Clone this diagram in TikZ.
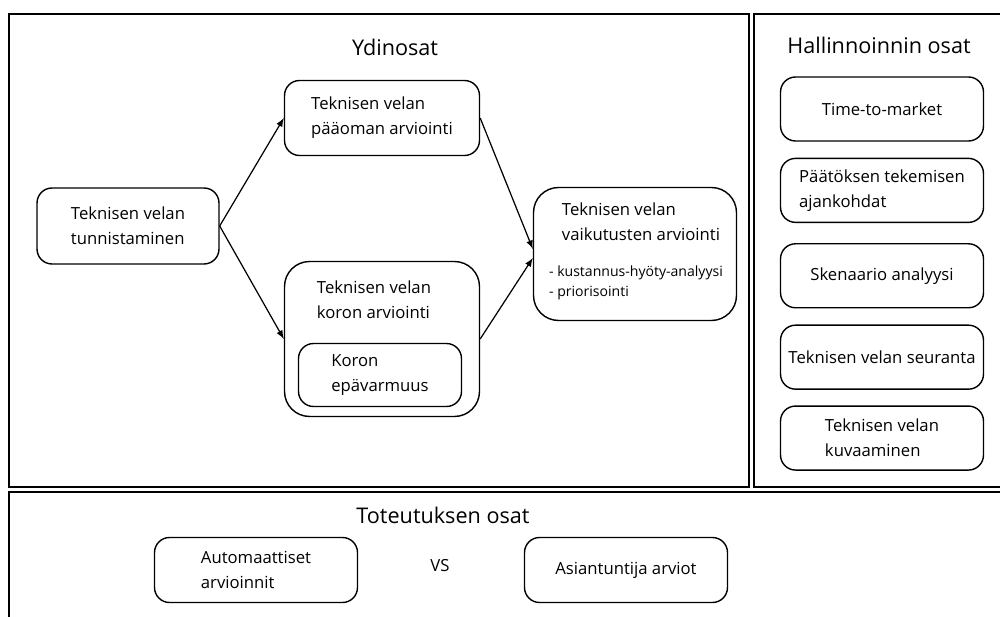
\documentclass[tikz,border=0pt]{standalone}
\usepackage{fontspec}
\setmainfont{Open Sans}
\usepackage{tikz}
\usetikzlibrary{arrows,positioning}

\begin{document}
\begin{tikzpicture}[x=0.02cm, y=-0.02cm,
    block/.style={
      rectangle,
      draw=black,
      line width=0.8pt,
      align=left,
      rounded corners=0.3cm,
      minimum width=4.06cm,
      minimum height=1.28cm,
      font=\fontsize{9.5}{14.2}\selectfont
    },
    teksti/.style={
      align=left,
      inner sep=0pt,
      font=\fontsize{9.5}{14.2}\selectfont
    },
    otsikko/.style={font=\fontsize{12.3}{15}\selectfont},
    kehys/.style={draw=black, line width=1.1pt},
    nuoli/.style={-latex, line width=0.7pt}
]
\useasboundingbox (0,0) rectangle (1000,617);

%% Frame
\draw [kehys] (9,14) rectangle (749,487);
\draw [kehys] (754,14) rectangle (1010,487);
\draw [kehys] (9,492) rectangle (1010,630);

%% Ydinosat
\node [otsikko] (ydin) at (395,47) {Ydinosat};
\node [block, minimum width=3.64cm, minimum height=1.52cm] (tunnistus) at (128,226) {Teknisen velan\\tunnistaminen};
\node [block, minimum width=3.9cm, minimum height=1.5cm] (paaoma) at (382,118) {Teknisen velan\\pääoman arviointi};
\node [block, minimum width=3.9cm, minimum height=3.1cm, rounded corners=0.5cm] (korko) at (382,339) {};
\node [teksti] (korkoteksti) at (374,300) {Teknisen velan\\koron arviointi};
\node [block, minimum width=3.26cm, minimum height=1.26cm] (epavarmuus) at (380,375) {Koron\\epävarmuus};
\node [block, minimum height=2.66cm, rounded corners=0.5cm] (vaikutus) at (635,254) {};
\node [teksti] (vaikutusteksti) at (641,222) {Teknisen velan\\vaikutusten arviointi};
\node [teksti, font=\fontsize{8}{11.4}\selectfont] (lista) at (636,283) {- kustannus-hyöty-analyysi\\- priorisointi};

%% Hallinnoinnin osat
\node [otsikko] (hallinto) at (879,45) {Hallinnoinnin osat};
\node [block] (time) at (882,109) {Time-to-market};
\node [block] (paatos) [below = 0.32cm of time] {Päätöksen tekemisen\\ajankohdat};
\node [block] (skenaario) [below = 0.4cm of paatos] {Skenaario analyysi};
\node [block] (seuranta) [below = 0.32cm of skenaario] {Teknisen velan seuranta};
\node [block] (kuvaus) [below = 0.31cm of seuranta] {Teknisen velan\\kuvaaminen};

%% Toteutuksen osat
\node [otsikko] (toteutus) at (443,515) {Toteutuksen osat};
\node [block, minimum height=1.3cm] (automaatti) at (256,570) {Automaattiset\\arvioinnit};
\node [teksti] (vs) at (440,566) {VS};
\node [block, minimum height=1.3cm] (asiantuntija) at (626,570) {Asiantuntija arviot};

%%% Arrows
\draw [nuoli] (tunnistus.east) -- (paaoma.west);
\draw [nuoli] (tunnistus.east) -- (korko.west);
\draw [nuoli] (paaoma.east) -- ([yshift=0.1cm]vaikutus.west);
\draw [nuoli] (korko.east) -- ([yshift=-0.08cm]vaikutus.west);

\end{tikzpicture}
\end{document}
